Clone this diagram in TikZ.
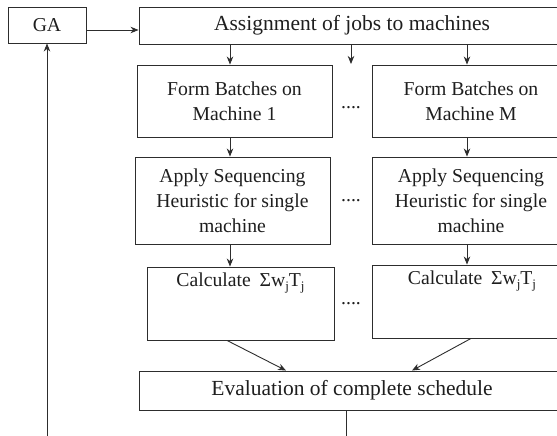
\documentclass[tikz,border=0pt]{standalone}
\usepackage{fontspec}
\setmainfont{Liberation Serif}
\usetikzlibrary{arrows.meta}
\definecolor{lc}{RGB}{45,45,45}
\definecolor{tc}{RGB}{30,30,30}
\newcommand{\subj}{\raisebox{-4pt}{\fontsize{13}{13}\selectfont j}}
\tikzset{
  bx/.style={draw=lc, line width=0.9pt, inner sep=0pt, align=center, text=tc,
             font=\fontsize{19.7}{25}\selectfont},
  bigbx/.style={bx, font=\fontsize{21.5}{26}\selectfont},
  txt/.style={inner sep=0pt, text=tc, font=\fontsize{19.7}{25}\selectfont},
  arr/.style={draw=lc, line width=0.9pt, -{Stealth[length=8pt,width=6.5pt,inset=2.5pt]}},
  ln/.style={draw=lc, line width=0.9pt}
}
\begin{document}
\begin{tikzpicture}[x=1pt,y=-1pt]
\useasboundingbox (0,0) rectangle (557,436);
\clip (0,0) rectangle (557,436);
% boxes
\node[bx, minimum width=78pt, minimum height=36pt] (GA) at (47,25) {GA};
\node[bigbx, minimum width=426pt, minimum height=37pt] (As) at (352,25.5) {Assignment of jobs to machines};
\node[bx, minimum width=195pt, minimum height=72pt] (F1) at (234.5,101) {Form Batches on\\Machine 1};
\node[bx, minimum width=198pt, minimum height=72pt] (FM) at (471,101) {Form Batches on\\Machine M};
\node[bx, minimum width=195pt, minimum height=87pt] (A1) at (232.5,200.5) {Apply Sequencing\\Heuristic for single\\machine};
\node[bx, minimum width=198pt, minimum height=87pt] (AM) at (471,200.5) {Apply Sequencing\\Heuristic for single\\machine};
\node[bx, minimum width=187pt, minimum height=73pt] (C1) at (240.5,303.5) {};
\node[bx, minimum width=200pt, minimum height=73pt] (CM) at (472,301.5) {};
\node[txt, anchor=base] (C1t) at ([yshift=-20pt]C1.north) {Calculate\hspace{0.45em}Σw\subj T\subj};
\node[txt, anchor=base] (CMt) at ([yshift=-20pt]CM.north) {Calculate\hspace{0.45em}Σw\subj T\subj};
\node[bigbx, minimum width=426pt, minimum height=39pt] (Ev) at (352,390.5) {Evaluation of complete schedule};
% dots
\node[txt, anchor=base] (d1) at (351,108) {....};
\node[txt, anchor=base] (d2) at (351,201) {....};
\node[txt, anchor=base] (d3) at (351,304) {....};
% helper coordinates
\coordinate (c1) at (230,0);
\coordinate (c2) at (467,0);
\coordinate (mid) at (351,64);
\coordinate (evb) at (346,436);
\coordinate (gab) at (47,436);
% connectors
\draw[arr] ([yshift=-5pt]GA.east) -- ([yshift=-5pt]GA.east -| As.west);
\draw[arr] (As.south -| c1) -- (F1.north -| c1);
\draw[arr] (As.south -| mid) -- (mid);
\draw[arr] (As.south -| c2) -- (FM.north -| c2);
\draw[arr] (F1.south -| c1) -- (A1.north -| c1);
\draw[arr] (FM.south -| c2) -- (AM.north -| c2);
\draw[arr] (A1.south -| c1) -- (C1.north -| c1);
\draw[arr] (AM.south -| c2) -- (CM.north -| c2);
\draw[arr] ([xshift=-13.5pt]C1.south) -- ([xshift=-66pt]Ev.north);
\draw[arr] ([xshift=-1pt]CM.south) -- ([xshift=60pt]Ev.north);
\draw[ln] (Ev.south -| evb) -- (evb);
\draw[arr] (gab) -- (GA.south);
\end{tikzpicture}
\end{document}
